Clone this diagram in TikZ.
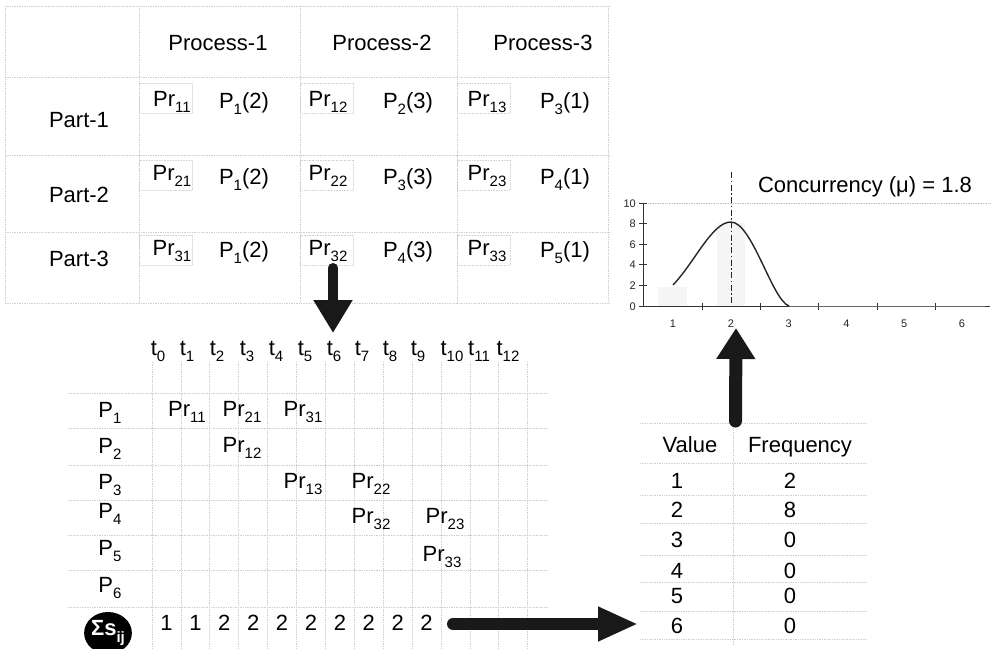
\documentclass[tikz,border=0pt]{standalone}
\usepackage{fontspec}
\setmainfont{Liberation Sans}
\usetikzlibrary{arrows.meta,shapes.geometric}
\newcommand\subx[1]{\raisebox{-0.28em}{\fontsize{15}{15}\selectfont #1}}
\begin{document}
\begin{tikzpicture}[x=1pt,y=-1pt,
  txt/.style={font=\fontsize{22}{26}\selectfont, inner sep=0pt, anchor=base, text=black},
  tick/.style={font=\fontsize{11}{13}\selectfont, inner sep=0pt, anchor=base east, text=black!85},
  gl/.style={draw=gray!38, densely dotted, line width=0.7pt},
  prbox/.style={draw=gray!35, densely dotted, line width=0.6pt},
  axisline/.style={draw=black!80, line width=0.9pt},
  bigarrow/.style={draw=black!90, line cap=round}]
\useasboundingbox (0,0) rectangle (993,648);
\fill[white] (0,0) rectangle (993,648);

% ---------------- top table ----------------
\foreach \y in {6,77,155,232,303} \draw[gl] (5,\y) -- (610,\y);
\foreach \x in {5,139,300,457,608} \draw[gl] (\x,6) -- (\x,303);
\foreach \x in {139,300,457}
  \foreach \y in {83,160,235}
    \draw[prbox] (\x,\y) rectangle ++(53,30);

\node[txt] (h1) at (218,50) {Process-1};
\node[txt] (h2) at (382,50) {Process-2};
\node[txt] (h3) at (543,50) {Process-3};
\node[txt] (r1) at (79,127) {Part-1};
\node[txt] (r2) at (79,202) {Part-2};
\node[txt] (r3) at (79,266) {Part-3};

\node[txt] (a11) at (172,106) {Pr\subx{11}};
\node[txt] (b11) at (244,108) {P\subx{1}(2)};
\node[txt] (a12) at (328,106) {Pr\subx{12}};
\node[txt] (b12) at (408,108) {P\subx{2}(3)};
\node[txt] (a13) at (487,106) {Pr\subx{13}};
\node[txt] (b13) at (565,108) {P\subx{3}(1)};

\node[txt] (a21) at (172,180) {Pr\subx{21}};
\node[txt] (b21) at (244,184) {P\subx{1}(2)};
\node[txt] (a22) at (328,180) {Pr\subx{22}};
\node[txt] (b22) at (408,184) {P\subx{3}(3)};
\node[txt] (a23) at (487,180) {Pr\subx{23}};
\node[txt] (b23) at (565,184) {P\subx{4}(1)};

\node[txt] (a31) at (172,255) {Pr\subx{31}};
\node[txt] (b31) at (244,257) {P\subx{1}(2)};
\node[txt] (a32) at (328,255) {Pr\subx{32}};
\node[txt] (b32) at (408,257) {P\subx{4}(3)};
\node[txt] (a33) at (487,255) {Pr\subx{33}};
\node[txt] (b33) at (565,257) {P\subx{5}(1)};

% arrow down
\coordinate (d1) at (333,268);
\coordinate (d2) at (333,333);
\draw[bigarrow, line width=10pt, -{Triangle[width=37pt,length=33pt]}] (d1) -- (d2);

% ---------------- bottom grid ----------------
\foreach \y in {393,428,465,500,535,570,607} \draw[gl] (68,\y) -- (548,\y);
\foreach \k in {0,...,13} \draw[gl] ({152+28.9*\k},362) -- ({152+28.9*\k},648);

\foreach \lab/\x in {0/158,1/187,2/217,3/247,4/276,5/305,6/334,7/362,8/390,9/418,10/452,11/479,12/508}
  \node[txt] (t\lab) at (\x,355) {t\subx{\lab}};

\node[txt] (p1) at (110,417) {P\subx{1}};
\node[txt] (p2) at (110,453) {P\subx{2}};
\node[txt] (p3) at (110,489) {P\subx{3}};
\node[txt] (p4) at (110,518) {P\subx{4}};
\node[txt] (p5) at (110,555) {P\subx{5}};
\node[txt] (p6) at (110,592) {P\subx{6}};

\node[txt] (g11) at (187,416) {Pr\subx{11}};
\node[txt] (g21) at (242,416) {Pr\subx{21}};
\node[txt] (g31) at (303,416) {Pr\subx{31}};
\node[txt] (g12) at (242,452) {Pr\subx{12}};
\node[txt] (g13) at (303,488) {Pr\subx{13}};
\node[txt] (g22) at (371,488) {Pr\subx{22}};
\node[txt] (g32) at (371,523) {Pr\subx{32}};
\node[txt] (g23) at (445,523) {Pr\subx{23}};
\node[txt] (g33) at (442,561) {Pr\subx{33}};

\node[ellipse, fill=black, minimum width=45pt, minimum height=42pt, inner sep=0pt,
      font=\fontsize{22}{26}\selectfont\bfseries, text=white] (sig) at (108,633)
      {\char"03A3s\subx{ij}};

\foreach \v [count=\i from 0] in {1,1,2,2,2,2,2,2,2,2}
  \node[txt] (s\i) at ({166.5+28.9*\i},630) {\v};

% arrow right
\coordinate (e1) at (453,624);
\coordinate (e2) at (638,624);
\draw[bigarrow, line width=12pt, -{Triangle[width=32pt,length=40pt]}] (e1) -- (e2);

% ---------------- value table ----------------
\draw[gl] (640,423) -- (867,423);
\foreach \y in {463,495,523,555,582,611,639} \draw[gl] (640,\y) -- (867,\y);
\draw[gl] (733,423) -- (733,645);
\node[txt] (vh) at (690,452) {Value};
\node[txt] (fh) at (800,452) {Frequency};
\foreach \v/\f/\y in {1/2/488,2/8/517,3/0/547,4/0/578,5/0/603,6/0/633}{
  \node[txt] (v\v) at (677,\y) {\v};
  \node[txt] (f\v) at (790,\y) {\f};
}

% arrow up
\coordinate (u1) at (735.5,421);
\coordinate (u2) at (736,328);
\draw[bigarrow, line width=13pt, -{Triangle[width=37pt,length=31pt]}] (u1) -- (u2);

% ---------------- chart ----------------
\fill[gray!8] (658,287) rectangle (687,306);
\fill[gray!8] (717,223) rectangle (745,306);
\draw[gray!50, densely dotted, line width=0.7pt] (643,203) -- (990,203);
\draw[axisline] (643,203) -- (643,306) -- (990,306);
\foreach \v in {0,2,4,6,8,10}{
  \draw[axisline, line width=0.7pt] (639,{306-10.3*\v}) -- (647,{306-10.3*\v});
  \node[tick] at (636,{310-10.3*\v}) {\v};
}
\foreach \x in {702,760,818,877,935} \draw[axisline, line width=0.7pt] (\x,303) -- (\x,310);
\foreach \c [count=\i from 0] in {1,...,6}
  \node[font=\fontsize{11}{13}\selectfont, inner sep=0pt, anchor=base, text=black!85] (xl\c) at ({673+57.8*\i},327) {\c};
\draw[black!85, line width=1.4pt] (673,285) .. controls (695,262) and (712,222) .. (731,222)
   .. controls (752,222) and (772,300) .. (789,306);
\draw[black!60, line width=0.8pt] (789,306) -- (985,306);
\draw[black!85, line width=1pt, dash pattern=on 6pt off 2.5pt on 1.5pt off 2.5pt] (731,172) -- (731,306);
\node[txt] (title) at (865,192) {Concurrency (\char"03BC) = 1.8};
\end{tikzpicture}
\end{document}
